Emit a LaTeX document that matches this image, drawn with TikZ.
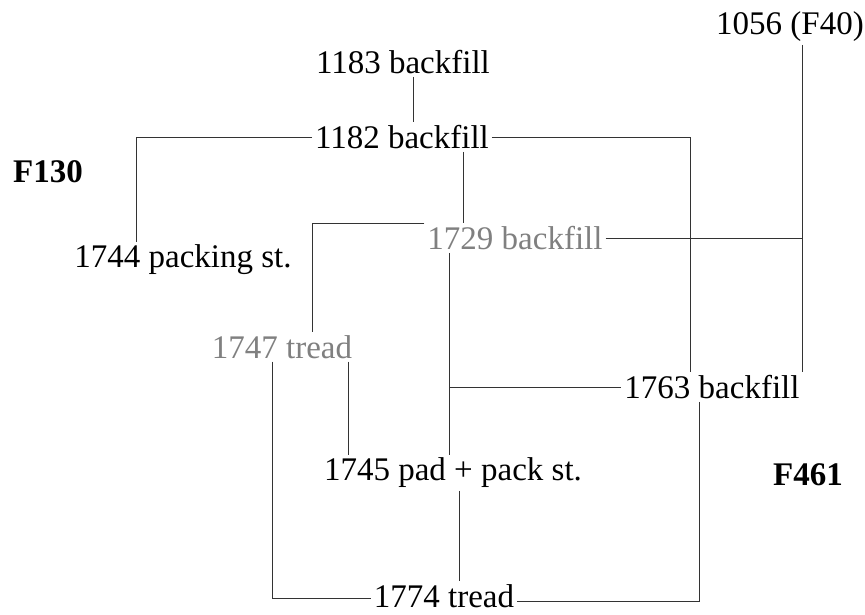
\documentclass[tikz,border=0pt]{standalone}
\usepackage{fontspec}
\setmainfont{Liberation Serif}
\begin{document}
\begin{tikzpicture}[x=1pt,y=-1pt,
  lbl/.style={inner sep=3pt, outer sep=0pt, font=\fontsize{33}{36}\selectfont, text=black},
  faint/.style={lbl, text=black!50},
  tag/.style={lbl, font=\fontsize{33}{36}\selectfont\bfseries},
  link/.style={draw=black!80, line width=0.8pt}]
\useasboundingbox[fill=white] (0,0) rectangle (865,615);
\node[lbl] (n1056) at (790,27) {1056 (F40)};
\node[lbl] (n1183) at (403,62) {1183 backfill};
\node[lbl] (n1182) at (402,137) {1182 backfill};
\node[tag] (f130) at (48,172) {F130};
\node[faint] (n1729) at (515,238) {1729 backfill};
\node[lbl] (n1744) at (183,260) {1744 packing st.};
\node[faint] (n1747) at (282,347) {1747 tread};
\node[lbl] (n1763) at (712,387) {1763 backfill};
\node[lbl] (n1745) at (453,473) {1745 pad + pack st.};
\node[tag] (f461) at (808,475) {F461};
\node[lbl] (n1774) at (444,596) {1774 tread};
\coordinate (j1) at (802,238);
\coordinate (j2) at (449,387);
% connectors
\draw[link] ([xshift=10]n1183.south) -- ([xshift=11]n1182.north);
\draw[link] (n1182.west) -| ([xshift=-47]n1744.north);
\draw[link] (n1182.east) -| ([xshift=-22]n1763.north);
\draw[link] ([xshift=61]n1182.south) -- ([xshift=-52]n1729.north);
\draw[link] ([yshift=15]n1729.west) -| ([xshift=30]n1747.north);
\draw[link] ([xshift=12]n1056.south) -- ([xshift=90]n1763.north);
\draw[link] (n1729.east) -- (j1);
\draw[link] ([xshift=-66]n1729.south) -- ([xshift=-4]n1745.north);
\draw[link] (j2) -- (n1763.west);
\draw[link] ([xshift=66]n1747.south) -- ([xshift=-105]n1745.north);
\draw[link] ([xshift=-10]n1747.south) |- ([yshift=-2]n1774.west);
\draw[link] ([xshift=-13]n1763.south) |- ([yshift=-5]n1774.east);
\draw[link] ([xshift=6]n1745.south) -- ([xshift=15]n1774.north);
\end{tikzpicture}
\end{document}
